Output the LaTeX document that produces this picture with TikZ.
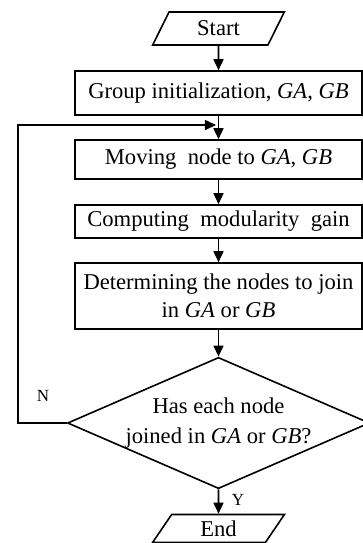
\documentclass[tikz,border=0pt]{standalone}
\usepackage{fontspec}
\setmainfont{Liberation Serif}
\usetikzlibrary{shapes.geometric, arrows.meta}

\begin{document}
\begin{tikzpicture}[x = 0.5pt, y = -0.5pt, line width = 0.8pt,
		font = \fontsize{11.3}{14}\selectfont,
		box/.style = {draw, rectangle, minimum width = 143.5pt, inner sep = 0pt, align = center},
		io/.style = {draw, trapezium, trapezium left angle = 65, trapezium right angle = 115, trapezium stretches = true, minimum width = 66pt, inner sep = 0pt},
		test/.style = {draw, diamond, aspect = 2.3, minimum width = 150pt, minimum height = 65pt, inner sep = 0pt, align = center, font = \fontsize{11.3}{15}\selectfont},
		flow/.style = {-{Triangle[length = 5.5pt, width = 5pt]}},
		tag/.style = {inner sep = 0pt, font = \fontsize{8.5}{10}\selectfont}]
	\useasboundingbox (0,0) rectangle (363,543);
	\clip (0,0) rectangle (363,543);
	\node [io, minimum height = 16.5pt] (start) at (218.5,28.5) {Start};
	\node [box, minimum height = 22pt] (init) at (218.5,93) {Group initialization, \textit{GA}, \textit{GB}};
	\node [box, minimum height = 19.5pt] (move) at (218.5,159.5) {Moving\ \ node to \textit{GA}, \textit{GB}};
	\node [box, minimum height = 16.5pt] (gain) at (218.5,221.5) {Computing\ \ modularity\ \ gain};
	\node [box, minimum height = 33pt] (join) at (218.5,296) {Determining the nodes to join\\in \textit{GA} or \textit{GB}};
	\node [test] (check) at (218.5,423) {Has each node\\joined in \textit{GA} or \textit{GB}?};
	\node [io, minimum height = 14pt] (end) at (218.5,528.5) {End};
	\node [tag] (no) at (43,396) {N};
	\node [tag] (yes) at (238,500) {Y};
	\coordinate (back) at (18,125);
	\coordinate (loop) at (216,125);
	\draw [flow] (start) -- (init);
	\draw [flow] (init) -- (move);
	\draw [flow] (move) -- (gain);
	\draw [flow] (gain) -- (join);
	\draw [flow] (join) -- (check);
	\draw [flow] (check) -- (end);
	\draw [flow] (check.west) -| (back) -- (loop);
%	\draw [flow] (check.east) -- ++(20,0);
\end{tikzpicture}
\end{document}
